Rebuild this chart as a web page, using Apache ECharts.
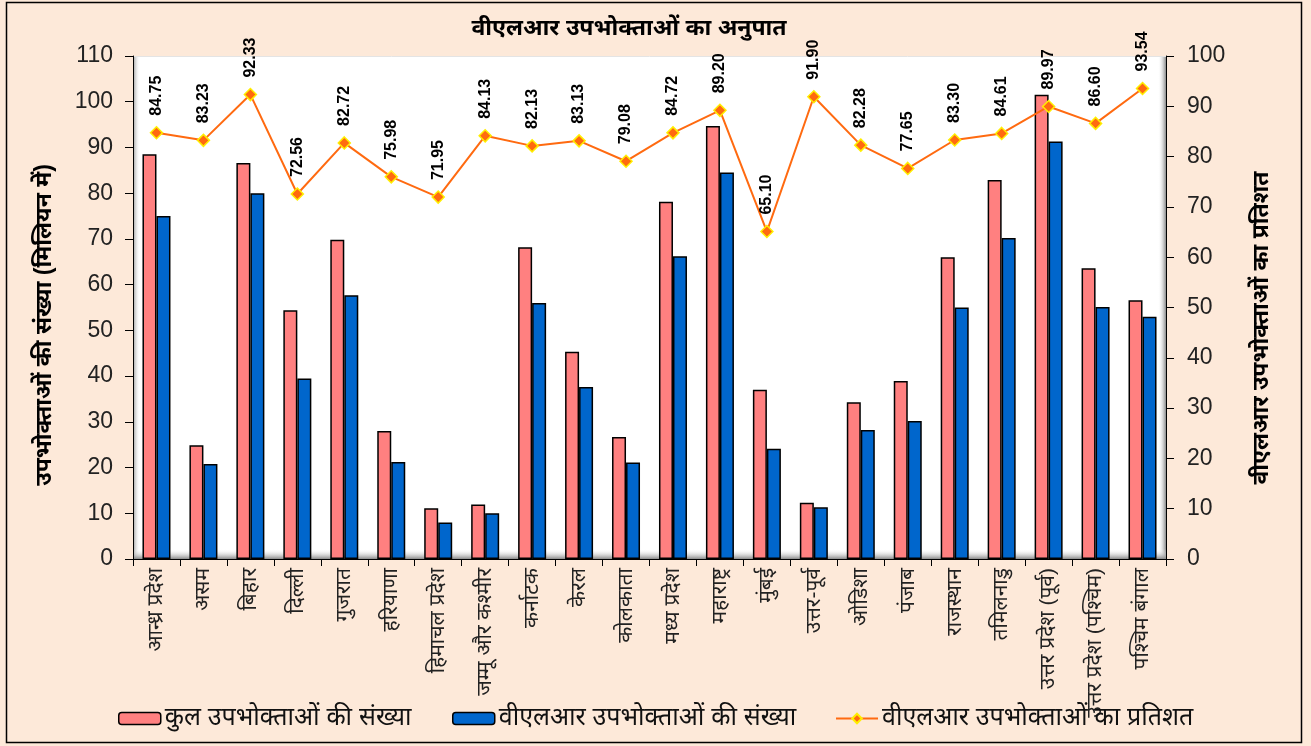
<!DOCTYPE html>
<html>
<head>
<meta charset="utf-8">
<script src="https://cdn.jsdelivr.net/npm/echarts@6/dist/echarts.min.js"></script>
<style>
  html, body { margin: 0; padding: 0; background: #fde9d9; }
  #chart { width: 1311px; height: 746px; }
</style>
</head>
<body>
<div id="chart"></div>
<script>
// राज्य / सर्किल
const states = [
  'आन्ध्र प्रदेश', 'असम', 'बिहार', 'दिल्ली', 'गुजरात', 'हरियाणा', 'हिमाचल प्रदेश',
  'जम्मू और कश्मीर', 'कर्नाटक', 'केरल', 'कोलकाता', 'मध्य प्रदेश', 'महाराष्ट्र', 'मुंबई',
  'उत्तर-पूर्व', 'ओडिशा', 'पंजाब', 'राजस्थान', 'तमिलनाडु', 'उत्तर प्रदेश (पूर्व)',
  'उत्तर प्रदेश (पश्चिम)', 'पश्चिम बंगाल'
];
// कुल उपभोक्ता (मिलियन)
const totalUsers = [88.5, 24.9, 86.6, 54.4, 69.8, 28.0, 11.1, 11.9, 68.2, 45.3, 26.7,
  78.1, 94.7, 37.0, 12.3, 34.3, 38.9, 66.0, 82.9, 101.5, 63.6, 56.6];
// वीएलआर उपभोक्ता (मिलियन)
const vlrUsers = [75.0, 20.8, 80.0, 39.5, 57.7, 21.2, 8.0, 10.0, 56.0, 37.6, 21.1,
  66.2, 84.5, 24.1, 11.3, 28.2, 30.2, 55.0, 70.2, 91.3, 55.1, 53.0];
// वीएलआर प्रतिशत
const vlrPercent = [84.75, 83.23, 92.33, 72.56, 82.72, 75.98, 71.95, 84.13, 82.13, 83.13, 79.08,
  84.72, 89.20, 65.10, 91.90, 82.28, 77.65, 83.30, 84.61, 89.97, 86.60, 93.54];

const seriesNames = ['कुल उपभोक्ताओं की संख्या', 'वीएलआर उपभोक्ताओं की संख्या', 'वीएलआर उपभोक्ताओं का प्रतिशत'];

const FONT = "'Liberation Sans', Arial, 'Noto Sans', sans-serif";
const chart = echarts.init(document.getElementById('chart'));

const G = { left: 133, right: 1166, top: 56, bottom: 559 };

const legendCommon = {
  bottom: 10,
  itemWidth: 42,
  itemHeight: 12,
  itemGap: 4,
  textStyle: { fontSize: 25, color: '#111', fontFamily: FONT, padding: [0, 0, 0, -1] },
  selectedMode: false
};

const option = {
  backgroundColor: '#fde9d9',
  textStyle: { fontFamily: FONT },
  title: {
    text: 'वीएलआर उपभोक्ताओं का अनुपात',
    left: 624,
    textAlign: 'center',
    top: 12,
    textStyle: { fontSize: 23, fontWeight: 'bold', color: '#000', fontFamily: FONT }
  },
  grid: {
    left: G.left, right: 1311 - G.right, top: G.top, bottom: 746 - G.bottom,
    show: true, backgroundColor: '#ffffff', borderWidth: 0
  },
  legend: [
    Object.assign({ left: 113, data: [{ name: seriesNames[0], itemStyle: { color: '#ff8080', borderColor: '#000', borderWidth: 1.5 } }] }, legendCommon),
    Object.assign({ left: 447, data: [{ name: seriesNames[1], itemStyle: { color: '#0066cc', borderColor: '#000', borderWidth: 1.5 } }] }, legendCommon),
    Object.assign({ left: 830, data: [seriesNames[2]] }, legendCommon)
  ],
  xAxis: {
    type: 'category',
    data: states,
    boundaryGap: true,
    axisLine: { lineStyle: { color: '#000', width: 1 } },
    axisTick: { show: true, interval: 0, length: 7, lineStyle: { color: '#000' } },
    axisLabel: { interval: 0, rotate: 90, fontSize: 21, color: '#222', margin: 9, fontFamily: FONT }
  },
  yAxis: [
    {
      type: 'value', min: 0, max: 110, interval: 10,
      axisLine: { show: true, lineStyle: { color: '#000' } },
      axisTick: { show: true, length: 8, lineStyle: { color: '#000' } },
      axisLabel: { fontSize: 23, color: '#222', margin: 20, fontFamily: FONT },
      splitLine: { show: false }
    },
    {
      type: 'value', min: 0, max: 100, interval: 10,
      axisLine: { show: true, lineStyle: { color: '#000' } },
      axisTick: { show: true, length: 8, lineStyle: { color: '#000' } },
      axisLabel: { fontSize: 23, color: '#222', margin: 21, fontFamily: FONT },
      splitLine: { show: false }
    }
  ],
  graphic: [
    // पृष्ठभूमि की 3D दीवार / फर्श
    { type: 'rect', z: 0, silent: true,
      shape: { x: G.left, y: G.top, width: 7, height: G.bottom - G.top },
      style: { fill: new echarts.graphic.LinearGradient(0, 0, 1, 0, [
        { offset: 0, color: '#9a9a9a' }, { offset: 1, color: 'rgba(255,255,255,0)' }]) } },
    { type: 'rect', z: 0, silent: true,
      shape: { x: G.right - 8, y: G.top, width: 8, height: G.bottom - G.top },
      style: { fill: new echarts.graphic.LinearGradient(0, 0, 1, 0, [
        { offset: 0, color: 'rgba(255,255,255,0)' }, { offset: 1, color: '#8a8a8a' }]) } },
    { type: 'rect', z: 0, silent: true,
      shape: { x: G.left, y: G.bottom - 10, width: G.right - G.left, height: 10 },
      style: { fill: new echarts.graphic.LinearGradient(0, 0, 0, 1, [
        { offset: 0, color: 'rgba(255,255,255,0)' }, { offset: 1, color: '#8a8a8a' }]) } },
    { type: 'line', z: 0, silent: true,
      shape: { x1: G.left, y1: G.top + 0.5, x2: G.right, y2: G.top + 0.5 },
      style: { stroke: '#e4e4e4', lineWidth: 1 } },
    // अक्ष शीर्षक
    { type: 'text', silent: true, x: 45, y: 325, rotation: Math.PI / 2,
      style: { text: 'उपभोक्ताओं की संख्या (मिलियन में)', fontSize: 23, fontWeight: 'bold',
        fill: '#000', align: 'center', verticalAlign: 'middle', fontFamily: FONT } },
    { type: 'text', silent: true, x: 1262, y: 328, rotation: Math.PI / 2,
      style: { text: 'वीएलआर उपभोक्ताओं का प्रतिशत', fontSize: 23, fontWeight: 'bold',
        fill: '#000', align: 'center', verticalAlign: 'middle', fontFamily: FONT } },
    // बाहरी किनारा
    { type: 'rect', silent: true, z: 100,
      shape: { x: 6.5, y: 2.5, width: 1295, height: 740 },
      style: { fill: 'none', stroke: '#000', lineWidth: 1.5 } }
  ],
  series: [
    {
      name: seriesNames[0], type: 'bar', data: totalUsers, yAxisIndex: 0,
      barWidth: 14, barGap: '0%', z: 3,
      itemStyle: { color: '#ff8080', borderColor: '#000', borderWidth: 1.5 }
    },
    {
      name: seriesNames[1], type: 'bar', data: vlrUsers, yAxisIndex: 0,
      barWidth: 14, barGap: '0%', z: 3,
      itemStyle: { color: '#0066cc', borderColor: '#000', borderWidth: 1.5 }
    },
    {
      name: seriesNames[2], type: 'line', data: vlrPercent, yAxisIndex: 1, z: 5,
      symbol: 'diamond', symbolSize: 12,
      lineStyle: { color: '#ff6a10', width: 2 },
      itemStyle: { color: '#ff6a10', borderColor: '#ffee00', borderWidth: 1.5 }
    },
    {
      // प्रतिशत के खड़े लेबल
      type: 'custom', yAxisIndex: 1, z: 6, silent: true,
      data: vlrPercent.map((v, i) => [i, v]),
      renderItem: (params, api) => {
        const pt = api.coord([api.value(0), api.value(1)]);
        return {
          type: 'text', x: pt[0], y: pt[1] - 17, rotation: Math.PI / 2,
          style: {
            text: api.value(1).toFixed(2), fontSize: 16, fontWeight: 'bold',
            fill: '#000', align: 'left', verticalAlign: 'middle', fontFamily: FONT
          }
        };
      }
    }
  ]
};

chart.setOption(option);
</script>
</body>
</html>
